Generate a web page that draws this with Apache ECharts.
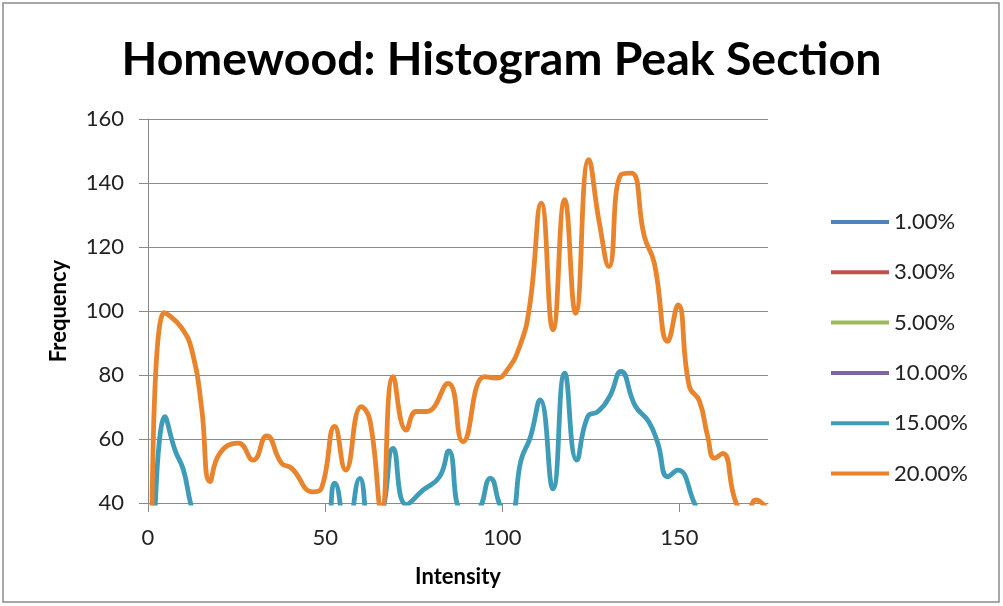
<!DOCTYPE html>
<html>
<head>
<meta charset="utf-8">
<script src="https://cdn.jsdelivr.net/npm/echarts@6/dist/echarts.min.js"></script>
<style>
html,body{margin:0;padding:0;background:#fff;}
#chart{width:1003px;height:606px;}
</style>
</head>
<body>
<div id="chart"></div>
<script>
// ---- data ----
const seriesNames = ['1.00%', '3.00%', '5.00%', '10.00%', '15.00%', '20.00%'];
const seriesColors = ['#4F81BD', '#C0504D', '#9BBB59', '#8064A2', '#3E9CB9', '#E9842D'];

const xTicks = [0, 50, 100, 150];
const yTicks = [40, 60, 80, 100, 120, 140, 160];

// series 1%, 3%, 5%, 10% lie entirely below the visible window (nothing drawn)
const x01 = [], y01 = [];
const x03 = [], y03 = [];
const x05 = [], y05 = [];
const x10 = [], y10 = [];

const x15 = [1.5, 4.8, 7.6, 10, 12, 14.5, 49.3, 52.7, 56.1, 59.8, 63, 66, 69.2, 72.9, 77.6, 82.3, 84.9, 88.6, 92.6, 96.6, 100, 102.4, 105.3, 107.9, 110.7, 114.3, 117.6, 121, 124.1, 127, 130.3, 133.5, 137.5, 141.3, 143.9, 146.7, 149.5, 154.2, 157];
const y15 = [20, 67, 56.6, 50.3, 40, 30, 30, 46.2, 30, 47.7, 30, 36, 57.1, 39.5, 44, 48.2, 56.3, 38, 38, 47.7, 38, 37, 53.4, 60.5, 72.2, 44.4, 80.6, 53.4, 67, 68.6, 73.3, 81.1, 70.4, 65.5, 58.7, 48.2, 50.3, 40, 32];

const x20 = [1, 4.5, 9.5, 12.8, 15.1, 17.5, 20.3, 25.5, 29.7, 33.5, 37.7, 40.5, 46.6, 49, 52.7, 55.8, 60.2, 62.6, 65.9, 69.2, 72.9, 75.7, 78.6, 84.7, 88.9, 95, 98.3, 101.1, 104.9, 107.7, 111, 114.3, 117.6, 120.7, 124.4, 127.4, 130.1, 133.5, 136.4, 140.1, 142.9, 146.7, 149.6, 152.8, 155.6, 158, 159.9, 162.2, 166, 169, 171.6, 174.5];
const y20 = [15, 99.5, 94.7, 85.8, 70, 46.7, 55.6, 58.7, 53.4, 61, 52.4, 50.9, 43.5, 44.7, 63.9, 50.3, 70.1, 66, 38, 79.5, 62.8, 68.6, 68.6, 77.4, 59.2, 79.5, 79, 81.1, 88.9, 101.4, 133.7, 94.1, 134.8, 99.3, 147.3, 127.5, 113.9, 142.6, 143.1, 123.3, 115, 90.5, 101.9, 76.4, 72, 60.7, 54, 55.5, 40, 37, 41, 38.5];

const xs = [x01, x03, x05, x10, x15, x20];
const ys = [y01, y03, y05, y10, y15, y20];

// ---- chart ----
const FONT = 'Lato, "Open Sans", sans-serif';
const GRID = '#8a8a8a';
const chart = echarts.init(document.getElementById('chart'), null, {renderer: 'canvas'});

const series = seriesNames.map((name, i) => ({
  name: name,
  type: 'line',
  data: xs[i].map((x, k) => [x, ys[i][k]]),
  smooth: 0.5,
  showSymbol: false,
  symbol: 'none',
  clip: true,
  color: seriesColors[i],
  lineStyle: {width: 4.8, color: seriesColors[i], cap: 'round', join: 'round'}
}));

chart.setOption({
  animation: false,
  backgroundColor: '#ffffff',
  title: {
    text: 'Homewood: Histogram Peak Section',
    left: 'center',
    top: 31,
    textStyle: {fontFamily: FONT, fontWeight: 'bold', fontSize: 46.5, color: '#000'}
  },
  graphic: [{
    type: 'rect',
    shape: {x: 3, y: 3, width: 996, height: 599},
    style: {fill: 'none', stroke: '#8a8a8a', lineWidth: 1.5},
    silent: true
  }],
  legend: {
    orient: 'vertical',
    left: 826,
    top: 204,
    icon: 'rect',
    itemWidth: 58,
    itemHeight: 4,
    itemGap: 24.3,
    data: seriesNames,
    textStyle: {fontFamily: FONT, fontSize: 22, color: '#222', lineHeight: 26}
  },
  grid: {left: 148, right: 235, top: 119, bottom: 103, containLabel: false},
  xAxis: {
    type: 'value',
    min: 0,
    max: 175,
    interval: 50,
    name: 'Intensity',
    nameLocation: 'middle',
    nameGap: 63,
    nameTextStyle: {fontFamily: FONT, fontWeight: 'bold', fontSize: 22, color: '#000'},
    axisLine: {show: true, lineStyle: {color: GRID, width: 1}},
    axisTick: {show: true, length: 9, inside: false, lineStyle: {color: GRID}, customValues: xTicks},
    axisLabel: {fontFamily: FONT, fontSize: 22, color: '#222', margin: 24, customValues: xTicks},
    splitLine: {show: false}
  },
  yAxis: {
    type: 'value',
    min: yTicks[0],
    max: yTicks[yTicks.length - 1],
    interval: 20,
    name: 'Frequency',
    nameLocation: 'middle',
    nameGap: 78,
    nameTextStyle: {fontFamily: FONT, fontWeight: 'bold', fontSize: 22, color: '#000'},
    axisLine: {show: true, lineStyle: {color: GRID, width: 1}},
    axisTick: {show: true, length: 9, inside: false, lineStyle: {color: GRID}},
    axisLabel: {fontFamily: FONT, fontSize: 22, color: '#222', margin: 24},
    splitLine: {show: true, lineStyle: {color: GRID, width: 1}}
  },
  series: series
});
</script>
</body>
</html>
